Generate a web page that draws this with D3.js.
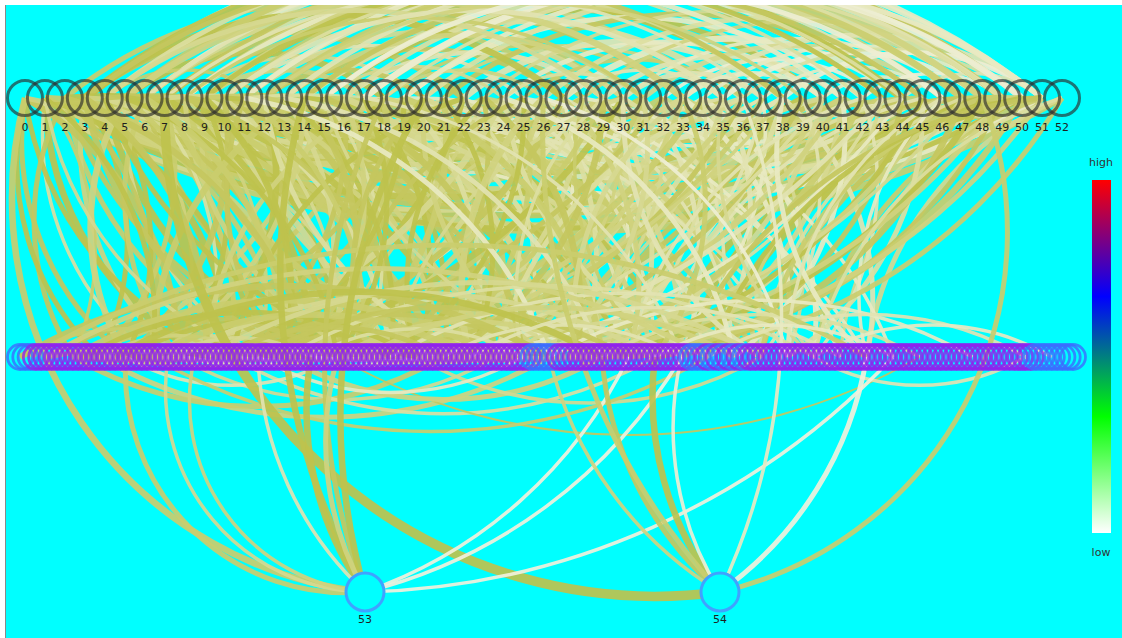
<!DOCTYPE html>
<html><head><meta charset="utf-8">
<script src="https://cdn.jsdelivr.net/npm/d3@7"></script>
<style>html,body{margin:0;padding:0;background:#fff;overflow:hidden}</style>
</head><body>
<svg id="chart" width="1122" height="638"></svg>
<script>
// ---------- data ----------
const topLabels = ["0","1","2","3","4","5","6","7","8","9","10","11","12","13","14","15","16","17","18","19","20","21","22","23","24","25","26","27","28","29","30","31","32","33","34","35","36","37","38","39","40","41","42","43","44","45","46","47","48","49","50","51","52"];
const bottomLabels = ["53","54"];
const midCount = 200; // unlabeled nodes of the middle row
const midBlue = [0,1,2,97,98,99,100,101,127,128,129,131,133,135,137,192,193,194,195,196,197,198,199];
const legendLabels = ["high","low"];
const legendStops = [[0,"#ffffff"],[0.33,"#00ff00"],[0.67,"#0000ff"],[1,"#ff0000"]];

// [source, target, colour level 0..1, weight]
// arcs above the labelled row (left -> right)
const topUpLinks = [
[2,30,.7,3],[3,22,.8,4],[3,50,.3,2],[4,35,.6,3],[5,18,.9,4],[5,40,.4,2],[6,28,.7,3],[6,51,.2,3],[7,33,.8,4],
[8,20,.5,2],[8,46,.6,3],[9,38,.9,3],[10,25,.3,2],[10,49,.7,4],[11,30,.5,3],[12,44,.2,2],[13,27,.8,3],[14,36,.4,4],[14,50,.6,2],
[15,40,.9,3],[16,29,.3,3],[17,47,.5,4],[18,33,.7,2],[19,42,.2,3],[20,35,.6,2],[20,51,.4,3],[21,45,.8,3],[22,38,.3,4],[23,48,.5,2],
[24,40,.2,3],[25,36,.7,2],[26,49,.4,3],[27,44,.2,4],[28,50,.6,2],[29,41,.3,3],[30,47,.2,2],[31,46,.5,3],[32,43,.1,2],[33,51,.3,3],
[34,49,.2,2],[35,48,.1,3],[36,50,.4,2],[37,46,.2,2],[38,51,.1,3],[12,20,.8,3],[18,26,.6,2],[24,31,.4,2],[30,37,.3,3],[40,46,.2,2],
[4,12,.7,2],[9,17,.6,3],[15,24,.5,2],[27,35,.3,2],[33,40,.2,3],[42,49,.1,2],[44,51,.3,2],[6,38,.5,3],
[11,43,.3,2],[16,48,.4,3],[3,27,.9,4],[7,42,.4,2],[13,31,.6,3],
[3,44,.9,5],[4,47,.4,3],[5,49,.7,4],[6,45,.3,2],[7,50,.8,3],[8,41,.2,3],[9,48,.6,4],[10,44,.4,2],
[11,51,.2,3],[12,47,.7,4],[13,49,.3,3],[14,45,.8,3],[15,50,.2,2],[17,50,.1,4],[18,49,.4,2],[19,51,.2,3],
[3,38,.8,3],[5,33,.6,4],[7,37,.3,2],[9,43,.9,3],[4,29,.5,3],[8,31,.7,2],[10,35,.3,3],[12,39,.6,2],[15,46,.1,3]
];
// arcs below the labelled row (right -> left)
const topDownLinks = [
[20,2,.8,4],[25,3,.6,3],[30,5,.9,5],[35,1,.7,3],[40,4,.5,4],[45,8,.8,3],[50,10,.4,3],[48,0,.7,4],[22,6,.9,3],[28,9,.5,4],
[33,12,.7,3],[38,14,.3,3],[43,17,.6,4],[47,20,.2,3],[51,23,.5,3],[36,21,.4,2],[41,25,.8,3],[46,29,.3,2],[49,32,.6,3],[52,30,.2,2],
[26,11,.7,3],[31,16,.4,2],[44,34,.5,3],[39,27,.2,2],[17,4,.9,3],[14,2,.6,2],[19,7,.8,3],[24,13,.3,2],[29,18,.7,3],[34,22,.2,2],
[37,28,.5,2],[42,33,.6,3],[45,38,.3,2],[50,41,.7,3],[52,45,.4,2],[12,1,.8,3],[51,3,.6,4],[49,6,.3,3],[46,2,.8,4],[42,0,.5,3],
[52,2,.7,4],[50,1,.9,3],[47,5,.4,3],[44,3,.8,4],[41,7,.6,3],[39,2,.9,4],[37,9,.3,2],[35,4,.7,3],[33,8,.5,3],[31,1,.8,4],
[29,6,.6,3],[27,3,.9,3],[25,10,.4,2],[23,2,.7,3],[21,5,.5,2],[45,15,.3,3],[48,18,.6,3],[51,14,.2,2],[40,12,.8,3],[36,16,.5,2],
[32,10,.7,4],[30,14,.4,2],[28,4,.8,3],[26,1,.6,4],[24,8,.9,3],[22,3,.5,2],[38,20,.3,3],[43,25,.2,2],[49,21,.4,3],[46,19,.6,2]
];
const topMidLinks = [
["m130",51,.9,4],["m110",51,.8,3],["m150",51,.7,3],["m120",50,.9,4],["m95",50,.6,3],["m140",49,.8,3],["m100",49,.7,4],["m125",48,.9,3],
["m160",52,.5,3],["m105",47,.8,3],["m135",46,.6,2],["m90",45,.7,3],["m115",44,.4,2],["m155",50,.5,2],
["m20",0,.8,3],["m35",1,.9,4],["m50",2,.7,3],["m30",3,.6,3],["m60",4,.9,4],["m45",5,.5,2],["m70",6,.8,3],["m25",1,.4,2],
["m80",8,.7,4],["m55",9,.6,3],["m40",0,.9,3],["m90",10,.5,3],["m65",2,.8,3],
[2,"m40",.9,4],[4,"m55",.8,3],[6,"m75",.7,4],[8,"m60",.9,3],[10,"m85",.6,3],[12,"m70",.8,4],[14,"m95",.5,2],[16,"m80",.9,3],
[18,"m105",.4,3],[20,"m90",.7,3],[22,"m115",.3,2],[24,"m100",.6,3],[26,"m125",.5,3],[28,"m110",.2,2],[30,"m140",.4,3],[32,"m130",.3,2],
[34,"m150",.2,3],[36,"m145",.5,2],[38,"m160",.3,3],[11,"m45",.8,3],[5,"m30",.6,2],[3,"m15",.9,3],[1,"m10",.7,2],
[15,"m10",.6,3],[20,"m30",.8,3],[25,"m45",.5,3],[30,"m60",.7,4],[35,"m70",.4,3],[40,"m80",.6,3],[28,"m20",.3,2],[33,"m50",.5,3],
[38,"m65",.8,3],[43,"m85",.4,2],[18,"m5",.7,3],[23,"m25",.6,2],[37,"m100",.3,2],[41,"m120",.5,3],[27,"m90",.2,2],[31,"m75",.6,3],
["m100",40,.5,3],["m120",45,.3,2],["m140",47,.4,2],["m60",30,.6,2],["m80",35,.4,2],
[0,"m30",.8,4],[0,"m60",.6,3],[1,"m45",.9,3],[1,"m80",.7,4],[2,"m25",.8,3],[2,"m70",.5,2],[2,"m110",.9,4],[3,"m50",.7,3],[3,"m90",.6,3],
[4,"m20",.9,3],[4,"m65",.5,4],[4,"m120",.8,3],[5,"m40",.7,3],[5,"m85",.9,4],[6,"m35",.4,2],[6,"m100",.8,3],[7,"m15",.7,3],[7,"m55",.9,4],
[7,"m130",.5,3],[8,"m45",.6,2],[8,"m95",.8,4],[9,"m30",.9,3],[9,"m70",.4,3],[9,"m140",.7,3],[10,"m20",.8,4],[10,"m60",.5,2],[10,"m115",.9,3],
[11,"m80",.6,3],[11,"m150",.4,2],[12,"m35",.9,4],[12,"m105",.7,3],[13,"m55",.5,3],[13,"m90",.8,4],[14,"m25",.6,3],[14,"m125",.9,3],
[15,"m65",.4,2],[15,"m135",.7,3],[16,"m40",.8,3],[16,"m100",.5,4],[17,"m75",.9,3],[17,"m145",.3,2],[18,"m50",.7,4],[18,"m120",.6,3],
[19,"m85",.4,3],[19,"m160",.2,2],[20,"m10",.8,3],[20,"m110",.5,3],[21,"m60",.7,4],[21,"m130",.3,2],[22,"m35",.9,3],[22,"m95",.4,2],
[23,"m140",.6,3],[23,"m70",.8,3],[24,"m15",.5,4],[24,"m120",.3,2],[25,"m80",.7,3],[25,"m155",.2,2],[26,"m50",.6,3],[26,"m105",.4,3],
[27,"m30",.8,4],[27,"m135",.3,2],[28,"m75",.5,3],[28,"m165",.2,2],[29,"m40",.7,3],[29,"m115",.4,3],[30,"m90",.6,2],[30,"m20",.9,4],
[31,"m125",.3,3],[31,"m55",.7,3],[32,"m100",.5,2],[32,"m10",.8,3],[33,"m145",.2,3],[33,"m70",.6,3],[34,"m35",.7,4],[34,"m110",.4,2],
[35,"m130",.3,3],[35,"m85",.5,2],[36,"m60",.8,3],[36,"m25",.6,3],[37,"m120",.2,2],[37,"m45",.7,3],[38,"m95",.4,3],[38,"m15",.6,2],
[39,"m140",.3,2],[39,"m75",.8,3],[40,"m105",.5,3],[40,"m40",.4,2],[41,"m135",.2,3],[41,"m65",.6,3],[42,"m150",.3,2],[42,"m90",.7,4],
[43,"m115",.5,2],[43,"m30",.3,3],[44,"m125",.8,3],[44,"m55",.2,2],[45,"m145",.4,3],[45,"m100",.9,3],[46,"m80",.6,3],["m160",46,.2,2],
[47,"m120",.8,4],[47,"m60",.5,2],["m140",48,.7,3],[48,"m95",.9,4],[49,"m115",.8,3],[49,"m75",.6,3],["m130",50,.9,3],[50,"m105",.7,4],
["m125",51,.8,3],[51,"m90",.6,3],["m150",52,.4,2],[52,"m110",.7,3],
["m10",2,.8,3],["m20",5,.6,4],["m15",0,.9,3],["m30",6,.7,3],["m45",1,.5,2],["m55",3,.8,4],["m65",8,.6,3],["m75",4,.9,3],
["m85",12,.4,3],["m95",7,.7,4],["m50",11,.8,3],["m110",15,.5,2],["m100",20,.6,3],["m130",24,.4,3],["m120",28,.7,2],["m140",30,.3,3],
["m150",35,.5,2],["m160",38,.2,3],["m60",25,.8,3],["m70",30,.5,2],["m40",22,.9,3],["m90",36,.4,3],["m115",42,.3,2],["m25",14,.7,4],
["m35",18,.6,3],["m145",46,.3,2],
[3,"m35",.8,4],[5,"m60",.9,3],[6,"m50",.7,4],[8,"m75",.8,3],[9,"m50",.9,4],[11,"m65",.7,3],[13,"m70",.9,3],[14,"m60",.8,4],
[1,"m25",.9,3],[2,"m55",.8,4],[16,"m55",.6,3],[19,"m45",.9,3],
[15,"m95",.8,4],[17,"m60",.9,3],[19,"m110",.7,4],[21,"m85",.9,3],[23,"m105",.8,4],[25,"m70",.9,3],[27,"m115",.6,3],[29,"m80",.8,4],
[31,"m100",.5,3],[33,"m120",.7,3],["m85",26,.6,4],["m75",23,.9,3],["m105",33,.5,3],["m65",20,.8,3],["m95",29,.4,2],[13,"m110",.3,3],
[11,"m100",.2,3],[17,"m125",.3,2],[24,"m135",.2,3],[26,"m145",.1,2]
];
const midMidLinks = [
["m5","m60",.8,3],["m10","m90",.7,4],["m20","m70",.9,3],["m30","m120",.5,3],["m40","m100",.8,3],["m50","m150",.4,2],
["m60","m110",.6,3],["m70","m160",.3,2],["m90","m140",.5,2],["m100","m180",.2,2],["m110","m170",.4,2],["m130","m190",.3,2],
["m0","m40",.7,2],["m15","m45",.6,2],["m150","m195",.2,2],["m0","m100",.8,4],["m5","m130",.6,3],["m12","m75",.9,3],
["m25","m85",.7,4],["m35","m140",.5,3],["m45","m115",.8,3],["m55","m95",.4,2],["m65","m135",.6,3],["m80","m125",.3,2],
["m2","m160",.7,3],["m18","m110",.9,4],["m28","m55",.5,2],["m38","m80",.8,3],["m85","m155",.3,2],["m120","m165",.2,2],
["m100","m15",.6,3],["m90","m30",.5,2],["m80","m10",.7,3],["m120","m40",.4,2],["m170","m60",.8,1],["m60","m20",.3,2],
["m110","m50",.6,3],["m140","m75",.5,2],["m130","m25",.7,2],["m95","m45",.2,2],["m190","m150",.3,2]
];
// links of the two lower nodes: wide sweeping ones, then gentle ones
const bottomWideLinks = [
[53,0,.7,4],[54,7,.9,6],[48,54,.7,3],[53,"m20",.7,3],[53,"m28",.5,2],[53,"m33",.6,2]
];
const bottomNearLinks = [
[53,14,.9,4],[53,18,.8,3],[53,20,.9,4],[53,"m55",.9,4],[53,"m60",.6,3],[53,"m45",.3,2],
["m115",53,.05,2],["m125",53,.05,2],["m165",53,.05,2],
[54,"m120",.9,4],[54,"m110",.8,3],[54,"m100",.6,2],[54,"m125",.1,2],["m160",54,.05,3],[54,26,.7,3],[36,54,.2,2]
];

// ---------- layout ----------
const svg = d3.select("#chart");
const W = 1122, H = 638;
const plot = {x:6, y:5, w:W-6, h:H-5};

const midIds = d3.range(midCount).map(k => "m" + k);
const xTop = d3.scalePoint().domain(topLabels).range([25, 1062]);
const xMid = d3.scalePoint().domain(midIds).range([20, 1073]);
const xBottom = d3.scalePoint().domain(bottomLabels).range([365, 720]);
const yRow = d3.scaleOrdinal().domain(["top","middle","bottom"]).range([98, 357, 592]);
const linkColor = d3.scaleLinear().domain([0,1]).range(["#f4f4e4","#b8bc3c"]);
const linkWidth = d3.scaleLinear().domain([1,6]).range([2, 9.5]);
const legendY = d3.scaleLinear().domain([0,1]).range([533, 180]);

const nodes = new Map();
topLabels.forEach(l => nodes.set(l, {id:l, x:xTop(l), y:yRow("top")}));
bottomLabels.forEach(l => nodes.set(l, {id:l, x:xBottom(l), y:yRow("bottom")}));
midIds.forEach((m,i) => nodes.set(m, {id:m, x:xMid(m), y:yRow("middle"), blue: midBlue.includes(i)}));

const toLinks = (arr, bend) => arr.map(([s,t,v,w]) => ({s:nodes.get(String(s)), t:nodes.get(String(t)), v, w, bend}));
const allLinks = [
  ...toLinks(topUpLinks, 0.8), ...toLinks(topDownLinks, 1.0), ...toLinks(topMidLinks, 1.0),
  ...toLinks(midMidLinks, 1.0), ...toLinks(bottomWideLinks, 0.66), ...toLinks(bottomNearLinks, 1.3)
];

// backgrounds
svg.append("rect").attr("width", W).attr("height", H).attr("fill", "#ffffff");
svg.append("rect").attr("x", plot.x).attr("y", plot.y).attr("width", plot.w).attr("height", plot.h).attr("fill", "#00ffff");
svg.append("line").attr("x1", 5.5).attr("x2", 5.5).attr("y1", 5).attr("y2", H).attr("stroke", "#8a8a8a").attr("stroke-width", 1);

const defs = svg.append("defs");
defs.append("clipPath").attr("id","clip").append("rect")
  .attr("x", plot.x).attr("y", plot.y).attr("width", plot.w).attr("height", plot.h);
const grad = defs.append("linearGradient").attr("id","lg").attr("x1",0).attr("y1",1).attr("x2",0).attr("y2",0);
grad.selectAll("stop").data(legendStops).join("stop")
  .attr("offset", d => d[0]).attr("stop-color", d => d[1]);

const g = svg.append("g").attr("clip-path","url(#clip)");

function arcPath(d){
  const dr = Math.hypot(d.t.x - d.s.x, d.t.y - d.s.y) * d.bend;
  return `M${d.s.x},${d.s.y}A${dr},${dr} 0 0,1 ${d.t.x},${d.t.y}`;
}

g.append("g").selectAll("path").data(allLinks).join("path")
  .attr("d", arcPath)
  .attr("fill", "none")
  .attr("stroke", d => linkColor(d.v))
  .attr("stroke-width", d => linkWidth(d.w))
  .attr("stroke-opacity", 0.92);

// middle row
g.append("g").selectAll("circle").data(midIds.map(m => nodes.get(m))).join("circle")
  .attr("cx", d => d.x).attr("cy", d => d.y).attr("r", 12.5)
  .attr("fill", "none")
  .attr("stroke", d => d.blue ? "#3c6cff" : "#9020ee")
  .attr("stroke-width", 2.8).attr("stroke-opacity", 0.8);

// top row
g.append("g").selectAll("circle").data(topLabels.map(l => nodes.get(l))).join("circle")
  .attr("cx", d => d.x).attr("cy", d => d.y).attr("r", 17.5)
  .attr("fill", "none").attr("stroke", "#2b2b2b").attr("stroke-width", 3).attr("stroke-opacity", 0.65);

g.append("g").selectAll("text").data(topLabels.map(l => nodes.get(l))).join("text")
  .attr("x", d => d.x).attr("y", d => d.y + 33)
  .attr("text-anchor","middle").attr("font-family","DejaVu Sans, sans-serif").attr("font-size", 11)
  .attr("fill","#1e1e1e").text(d => d.id);

// bottom nodes
g.append("g").selectAll("circle").data(bottomLabels.map(l => nodes.get(l))).join("circle")
  .attr("cx", d => d.x).attr("cy", d => d.y).attr("r", 19)
  .attr("fill", "#00ffff").attr("stroke", "#3fa2ff").attr("stroke-width", 3);
g.append("g").selectAll("text").data(bottomLabels.map(l => nodes.get(l))).join("text")
  .attr("x", d => d.x).attr("y", d => d.y + 31)
  .attr("text-anchor","middle").attr("font-family","DejaVu Sans, sans-serif").attr("font-size", 11)
  .attr("fill","#1e1e1e").text(d => d.id);

// legend
const lg = svg.append("g");
lg.append("rect").attr("x", 1092).attr("y", legendY(1)).attr("width", 19)
  .attr("height", legendY(0) - legendY(1)).attr("fill", "url(#lg)");
lg.selectAll("text").data(legendLabels).join("text")
  .attr("x", 1101).attr("y", (d,i) => i === 0 ? legendY(1) - 14 : legendY(0) + 23)
  .attr("text-anchor","middle").attr("font-family","DejaVu Sans, sans-serif").attr("font-size", 11)
  .attr("fill","#333").text(d => d);
</script>
</body></html>
